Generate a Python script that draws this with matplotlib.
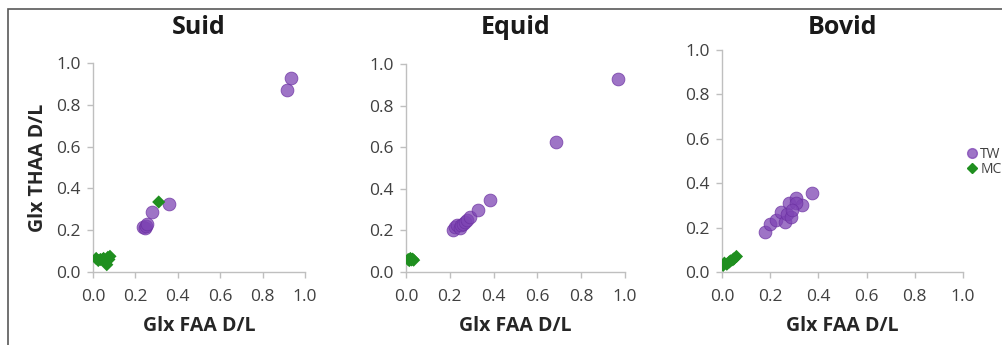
import matplotlib
matplotlib.use("Agg")
import matplotlib.pyplot as plt
from matplotlib.patches import Rectangle
from matplotlib.lines import Line2D

plt.rcParams['font.family'] = ['Open Sans', 'DejaVu Sans']

# Glx FAA D/L (x) vs Glx THAA D/L (y)
suid_tw_x = [0.235, 0.245, 0.25, 0.255, 0.28, 0.36, 0.915, 0.935]
suid_tw_y = [0.215, 0.21, 0.22, 0.23, 0.285, 0.325, 0.87, 0.93]
suid_mc_x = [0.015, 0.025, 0.035, 0.045, 0.05, 0.06, 0.065, 0.07, 0.08, 0.075, 0.31]
suid_mc_y = [0.065, 0.055, 0.06, 0.06, 0.065, 0.05, 0.035, 0.07, 0.075, 0.06, 0.335]

equid_tw_x = [0.215, 0.225, 0.235, 0.245, 0.25, 0.26, 0.27, 0.28, 0.29, 0.33, 0.385, 0.685, 0.97]
equid_tw_y = [0.20, 0.215, 0.225, 0.21, 0.225, 0.23, 0.24, 0.25, 0.265, 0.30, 0.345, 0.625, 0.93]
equid_mc_x = [0.01, 0.015, 0.02, 0.025, 0.03, 0.035]
equid_mc_y = [0.06, 0.055, 0.065, 0.058, 0.062, 0.057]

bovid_tw_x = [0.178, 0.2, 0.224, 0.243, 0.261, 0.27, 0.285, 0.278, 0.306, 0.333, 0.375, 0.306, 0.29]
bovid_tw_y = [0.18, 0.215, 0.235, 0.27, 0.225, 0.26, 0.25, 0.31, 0.335, 0.30, 0.355, 0.31, 0.28]
bovid_mc_x = [0.005, 0.01, 0.02, 0.03, 0.035, 0.045, 0.05, 0.06]
bovid_mc_y = [0.03, 0.04, 0.035, 0.045, 0.05, 0.055, 0.06, 0.07]

titles = ["Suid", "Equid", "Bovid"]
ticks = [0.0, 0.2, 0.4, 0.6, 0.8, 1.0]
series = [(suid_tw_x, suid_tw_y, suid_mc_x, suid_mc_y),
          (equid_tw_x, equid_tw_y, equid_mc_x, equid_mc_y),
          (bovid_tw_x, bovid_tw_y, bovid_mc_x, bovid_mc_y)]

purple = '#7e45b4'
green = '#1f8f1f'
grey_axis = '#bfbfbf'
txt = '#404040'

W, H = 1003, 345
fig = plt.figure(figsize=(W / 100, H / 100), dpi=100)

# chart area border, only the top and left edges fall inside the image
fig.add_artist(Rectangle((8 / W, -0.5), 1.2, 1.5 - 9 / H, transform=fig.transFigure,
                         fill=False, edgecolor='#595959', linewidth=1.2))

boxes = [(93, 305, 63), (406, 625, 64), (722, 963, 50)]
for i, ((l, r, t), (tx, ty, mx, my), name) in enumerate(zip(boxes, series, titles)):
    ax = fig.add_axes([l / W, (H - 272) / H, (r - l) / W, (272 - t) / H])
    ax.scatter(tx, ty, s=85, marker='o', color=purple, alpha=0.75,
               edgecolors='#6a2fa0', linewidths=0.6, zorder=3)
    ax.scatter(mx, my, s=45, marker='D', color=green, edgecolors='none', zorder=3)
    ax.set_xlim(0, 1.0)
    ax.set_ylim(0, 1.0)
    ax.set_xticks(ticks)
    ax.set_yticks(ticks)
    ax.set_xticklabels([f"{v:.1f}" for v in ticks])
    ax.set_yticklabels([f"{v:.1f}" for v in ticks])
    for side in ['top', 'right']:
        ax.spines[side].set_visible(False)
    for side in ['left', 'bottom']:
        ax.spines[side].set_color(grey_axis)
        ax.spines[side].set_linewidth(1.0)
    ax.tick_params(colors=grey_axis, labelcolor=txt, labelsize=12.5, length=4,
                   width=1.0, direction='out')
    ax.tick_params(axis='x', pad=8)
    ax.tick_params(axis='y', pad=5)
    ax.set_xlabel("Glx FAA D/L", fontsize=14, fontweight='bold', color='#262626', labelpad=8)
    if i == 0:
        ax.set_ylabel("Glx THAA D/L", fontsize=14, fontweight='bold', color='#262626', labelpad=6)
    fig.text((l + r) / 2 / W, 1 - 28 / H, name, ha='center', va='center',
             fontsize=18, fontweight='bold', color='#1a1a1a')

handles = [Line2D([], [], marker='o', linestyle='none', color=purple, alpha=0.75,
                  markersize=7, label='TW'),
           Line2D([], [], marker='D', linestyle='none', color=green,
                  markersize=5, label='MC')]
fig.legend(handles=handles, loc='center left', bbox_to_anchor=(958 / W, 1 - 162 / H),
           frameon=False, fontsize=10, handletextpad=0.1, labelspacing=0.05,
           handlelength=1.0, borderpad=0, labelcolor=txt)

fig.savefig("out.png", dpi=100)
